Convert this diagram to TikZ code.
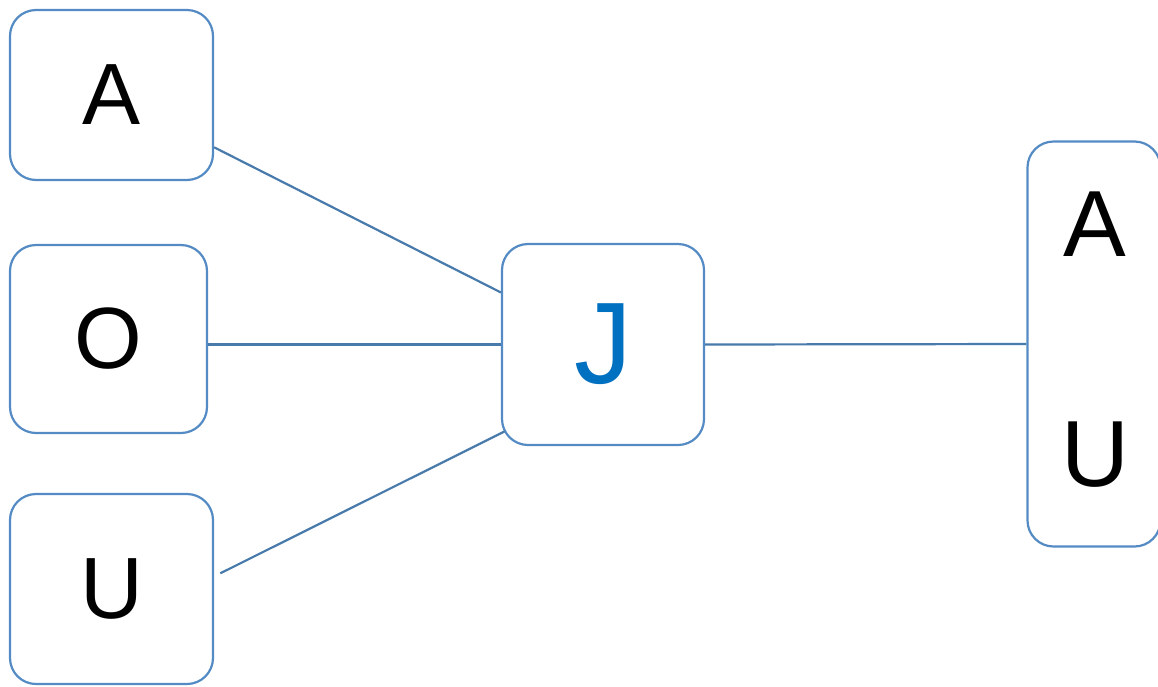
\documentclass[tikz,border=0pt]{standalone}
\usepackage{fontspec}
\setmainfont{Liberation Sans}
\definecolor{boxline}{RGB}{84,139,196}
\definecolor{conn}{RGB}{72,122,172}
\definecolor{jblue}{RGB}{0,112,192}
\begin{document}
\begin{tikzpicture}[x=1pt,y=-1pt,
  box/.style={draw=boxline, line width=2.2pt, rounded corners=26pt, fill=white, inner sep=0pt, anchor=center},
  conline/.style={draw=conn, line width=2.2pt},
  big/.style={font=\fontsize{87}{87}\selectfont},
  rbig/.style={font=\fontsize{94}{94}\selectfont}]
\useasboundingbox (0,0) rectangle (1158,686);
\node[box, minimum width=203pt, minimum height=170pt, big] (a) at (111.5,95) {A};
\node[box, minimum width=197pt, minimum height=188pt, big] (o) at (108.5,339) {O};
\node[box, minimum width=203pt, minimum height=190pt, big] (u) at (111.5,589) {U};
\node[box, minimum width=202pt, minimum height=201pt, text=jblue, font=\fontsize{116}{116}\selectfont] (j) at (603,344.5) {J};
\node[box, minimum width=133pt, minimum height=405pt] (r) at (1094,344) {};
\node[rbig, inner sep=0pt] (ra) at (1095,224) {A};
\node[rbig, inner sep=0pt] (ru) at (1095,455) {U};
\draw[conline] (a.-27.6) -- (j.153);
\draw[conline] (o.east |- j.west) -- (j.west);
\draw[conline, shorten <=7pt, shorten >=-4pt] (u.7.9) -- (j.221.7);
\draw[conline] (j.east) -- (r.west);
\end{tikzpicture}
\end{document}
